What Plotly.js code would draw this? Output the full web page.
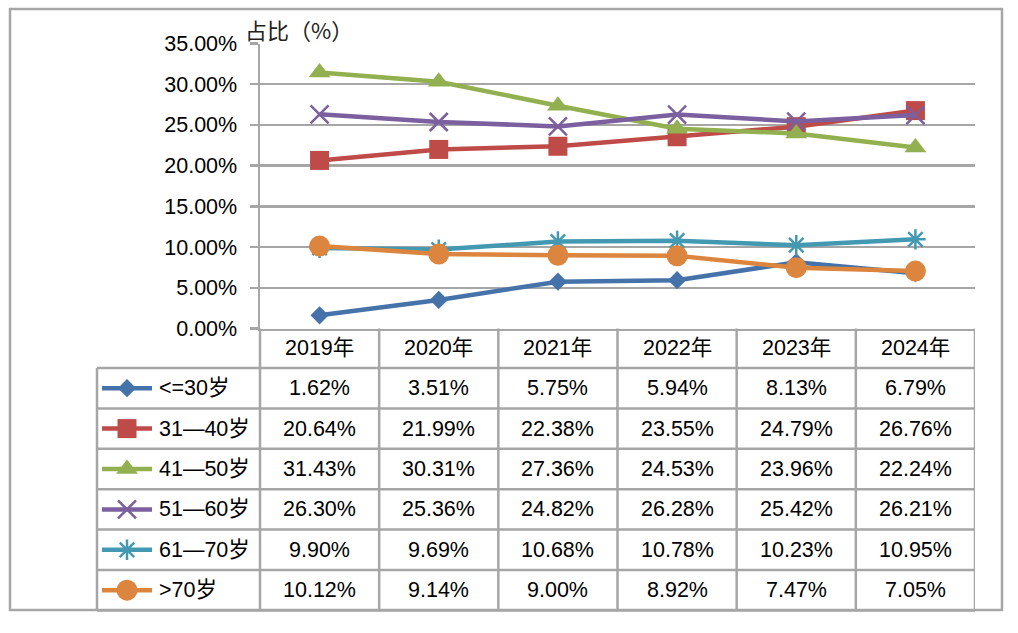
<!DOCTYPE html>
<html>
<head>
<meta charset="utf-8">
<script src="https://cdn.plot.ly/plotly-3.0.1.min.js"></script>
<style>html,body{margin:0;padding:0;background:#fff;}#chart{width:1018px;height:633px;}</style>
</head>
<body>
<div id="chart"></div>
<script>
// ---- data ----
const categories = ['2019年', '2020年', '2021年', '2022年', '2023年', '2024年'];
const seriesNames = ['<=30岁', '31—40岁', '41—50岁', '51—60岁', '61—70岁', '>70岁'];
const age30 = [1.62, 3.51, 5.75, 5.94, 8.13, 6.79];
const age31_40 = [20.64, 21.99, 22.38, 23.55, 24.79, 26.76];
const age41_50 = [31.43, 30.31, 27.36, 24.53, 23.96, 22.24];
const age51_60 = [26.30, 25.36, 24.82, 26.28, 25.42, 26.21];
const age61_70 = [9.90, 9.69, 10.68, 10.78, 10.23, 10.95];
const age70plus = [10.12, 9.14, 9.00, 8.92, 7.47, 7.05];
const yTitle = '占比（%）';

// ---- styles ----
const W = 1018, H = 633;
const px = x => x / W;
const py = y => 1 - y / H;
const FONT = 'Liberation Sans, Noto Sans CJK SC, sans-serif';
const FS = 21.5;
const GRID = '#A6A6A6';
const allValues = [age30, age31_40, age41_50, age51_60, age61_70, age70plus];
const colors = ['#4672AA', '#BE4B48', '#92B050', '#7B5F9E', '#4499B2', '#DC853E'];
const markers = [
  {symbol: 'diamond', size: 14},
  {symbol: 'square', size: 19},
  {symbol: 'triangle-up', size: 19},
  {symbol: 'x-thin-open', size: 18, line: {width: 2.5}},
  {symbol: 'asterisk-open', size: 17, line: {width: 2.5}},
  {symbol: 'circle', size: 21}
];

const plotLeft = 260, plotRight = 975, plotTop = 43.5, plotBottom = 328.5;
const headerTop = 328.5, headerBottom = 368, rowH = 40.4, tableBottom = headerBottom + rowH * 6;
const legendLeft = 97;

const traces = [];
allValues.forEach((vals, i) => {
  const m = Object.assign({color: colors[i]}, markers[i]);
  if (m.line) m.line = Object.assign({color: colors[i]}, m.line);
  traces.push({
    type: 'scatter', mode: 'lines+markers',
    x: categories.map((c, k) => k), y: vals,
    name: seriesNames[i],
    line: {color: colors[i], width: 4.5},
    marker: m,
    xaxis: 'x', yaxis: 'y', cliponaxis: false, showlegend: false, hoverinfo: 'skip'
  });
});

// legend keys in the table (pixel-coordinate helper axis)
allValues.forEach((vals, i) => {
  const yc = headerBottom + rowH * (i + 0.5);
  const m = Object.assign({color: colors[i]}, markers[i]);
  if (m.line) m.line = Object.assign({color: colors[i]}, m.line);
  traces.push({
    type: 'scatter', mode: 'lines', x: [102, 152], y: [yc, yc],
    line: {color: colors[i], width: 4.5}, xaxis: 'x2', yaxis: 'y2',
    showlegend: false, hoverinfo: 'skip', cliponaxis: false
  });
  traces.push({
    type: 'scatter', mode: 'markers', x: [127], y: [yc],
    marker: m, xaxis: 'x2', yaxis: 'y2',
    showlegend: false, hoverinfo: 'skip', cliponaxis: false
  });
});

const shapes = [];
const ln = (x0, y0, x1, y1) => shapes.push({type: 'line', xref: 'paper', yref: 'paper',
  x0: px(x0), y0: py(y0), x1: px(x1), y1: py(y1), line: {color: GRID, width: 2.5}, layer: 'below'});
// outer border
shapes.push({type: 'rect', xref: 'paper', yref: 'paper', x0: px(10), y0: py(610), x1: px(1002), y1: py(9),
  line: {color: GRID, width: 2.5}, fillcolor: 'rgba(0,0,0,0)', layer: 'below'});
// table horizontal lines
for (let r = 0; r <= 6; r++) {
  const y = headerBottom + rowH * r;
  ln(legendLeft, y, plotRight, y);
}
// table verticals
ln(legendLeft, headerBottom, legendLeft, tableBottom);
ln(plotLeft, plotBottom, plotLeft, tableBottom);
categories.forEach((c, k) => {
  shapes.push({type: 'line', xref: 'x', yref: 'paper', x0: k + 0.5, x1: k + 0.5,
    y0: py(headerTop), y1: py(tableBottom), line: {color: GRID, width: 2.5}, layer: 'below'});
});

const annotations = [];
annotations.push({xref: 'paper', yref: 'paper', x: px(243), y: py(29), xanchor: 'left', yanchor: 'middle',
  text: yTitle, showarrow: false, font: {family: 'Noto Sans CJK SC, sans-serif', size: 22, color: '#222'}});
categories.forEach((c, k) => {
  annotations.push({xref: 'x', yref: 'paper', x: k, y: py((headerTop + headerBottom) / 2),
    xanchor: 'center', yanchor: 'middle', text: c, showarrow: false,
    font: {family: FONT, size: FS, color: '#000'}});
});
allValues.forEach((vals, i) => {
  const yc = headerBottom + rowH * (i + 0.5);
  annotations.push({xref: 'paper', yref: 'paper', x: px(157), y: py(yc), xanchor: 'left', yanchor: 'middle',
    text: seriesNames[i], showarrow: false, font: {family: FONT, size: FS, color: '#000'}});
  vals.forEach((v, k) => {
    annotations.push({xref: 'x', yref: 'paper', x: k, y: py(yc), xanchor: 'center', yanchor: 'middle',
      text: v.toFixed(2) + '%', showarrow: false, font: {family: FONT, size: FS, color: '#000'}});
  });
});

const layout = {
  width: W, height: H,
  margin: {l: 0, r: 0, t: 0, b: 0},
  paper_bgcolor: '#fff', plot_bgcolor: 'rgba(0,0,0,0)',
  font: {family: FONT, size: FS, color: '#000'},
  showlegend: false, hovermode: false,
  xaxis: {
    domain: [px(plotLeft), px(plotRight)], range: [-0.5, 5.5],
    showgrid: false, zeroline: false, showticklabels: false, ticks: '',
    showline: true, linecolor: GRID, linewidth: 2.5, fixedrange: true, anchor: 'y'
  },
  yaxis: {
    domain: [py(plotBottom), py(plotTop)], range: [0, 35], dtick: 5,
    tickformat: '.2f', ticksuffix: '%',
    showgrid: true, gridcolor: GRID, gridwidth: 2.5, zeroline: false,
    showline: true, linecolor: GRID, linewidth: 2.5,
    ticks: 'outside', ticklen: 8, tickcolor: GRID, tickwidth: 2.5,
    ticklabelstandoff: 8, anchor: 'x',
    tickfont: {family: FONT, size: FS, color: '#000'}, fixedrange: true
  },
  xaxis2: {domain: [0, 1], range: [0, W], visible: false, fixedrange: true, anchor: 'y2'},
  yaxis2: {domain: [0, 1], range: [H, 0], visible: false, fixedrange: true, anchor: 'x2'},
  shapes: shapes,
  annotations: annotations
};

Plotly.newPlot('chart', traces, layout, {staticPlot: true, displayModeBar: false});
</script>
</body>
</html>
